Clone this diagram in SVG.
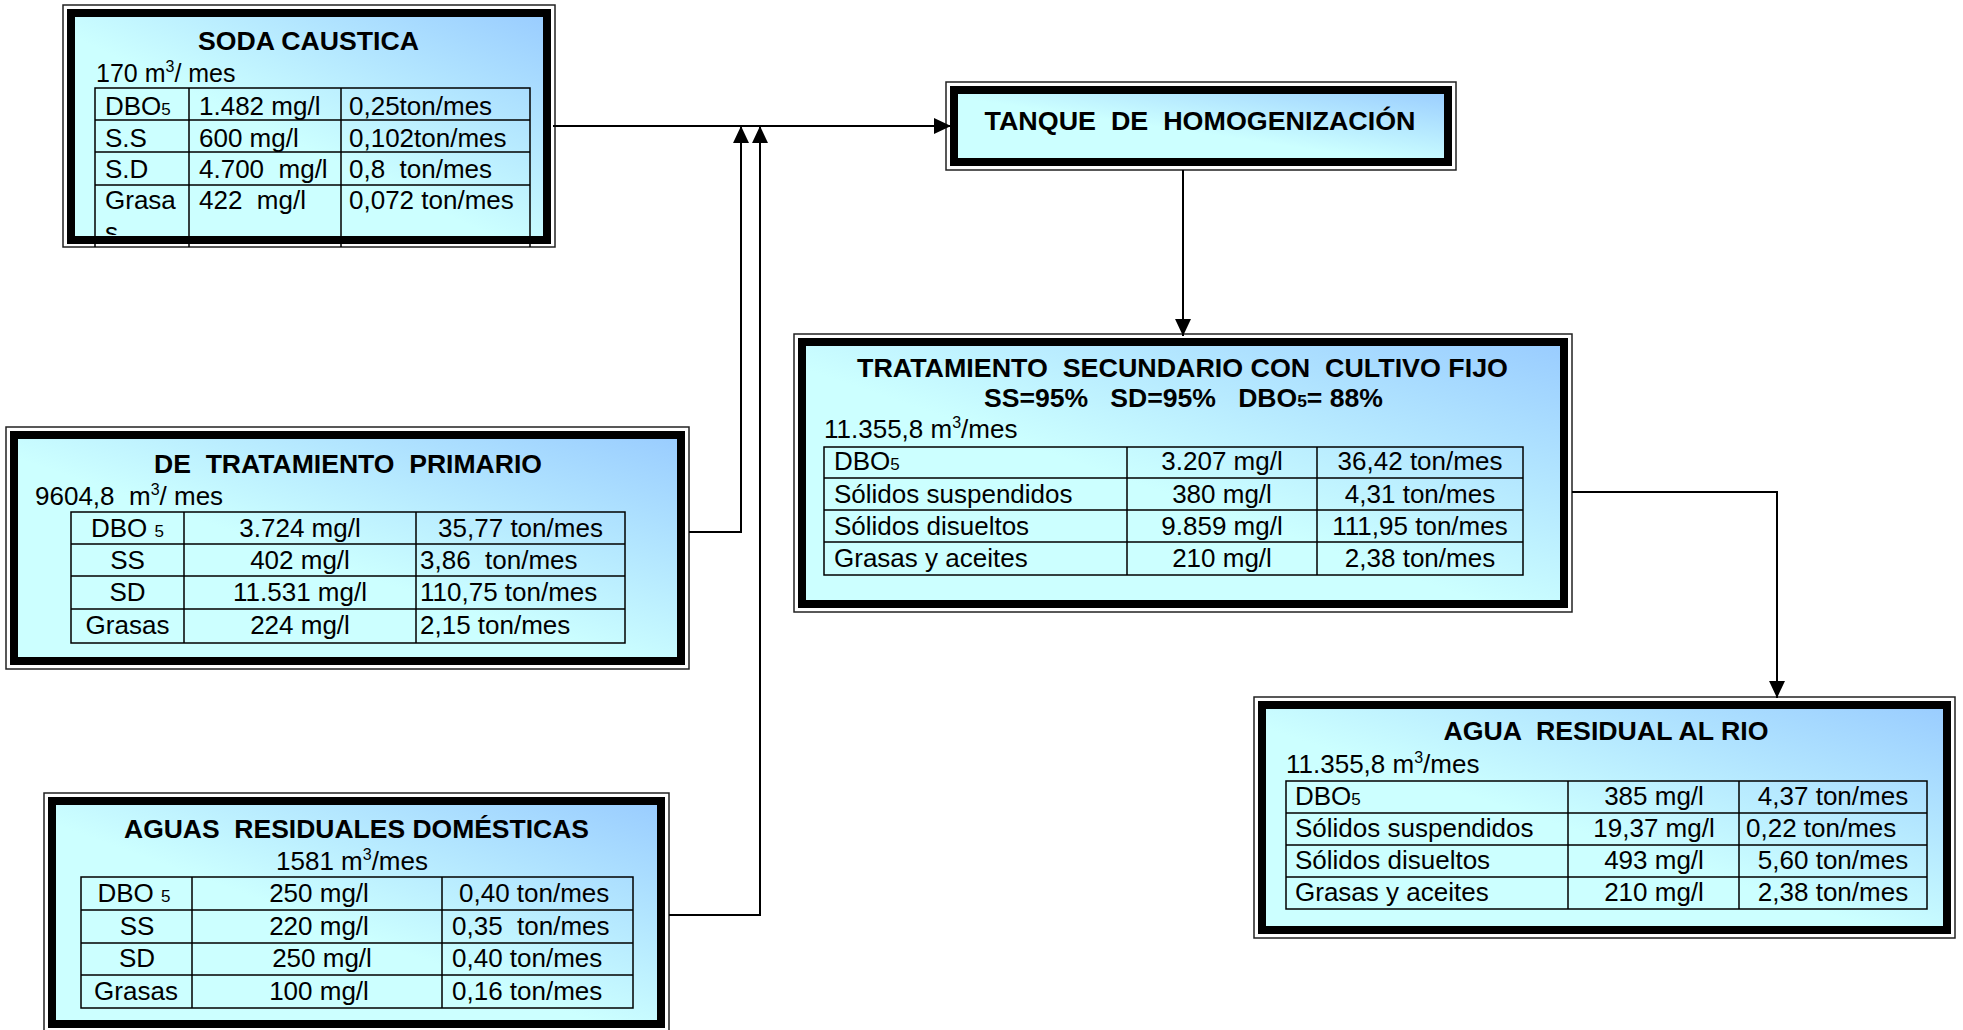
<svg xmlns="http://www.w3.org/2000/svg" width="1963" height="1030" viewBox="0 0 1963 1030">
<defs>
<linearGradient id="g" x1="1" y1="0" x2="0" y2="1">
<stop offset="0" stop-color="#99CCFF"/>
<stop offset="0.55" stop-color="#CCFFFF"/>
<stop offset="1" stop-color="#CCFFFF"/>
</linearGradient>
<marker id="arr" markerUnits="userSpaceOnUse" markerWidth="17" markerHeight="16" refX="16" refY="7.5" orient="auto" viewBox="0 0 16 15">
<path d="M0,0 L16,7.5 L0,15 Z" fill="#000"/>
</marker>
<clipPath id="clipA"><rect x="75" y="17" width="469" height="218"/></clipPath>
</defs>
<style>
.t{font-family:"Liberation Sans",Arial,Helvetica,sans-serif;font-size:26px;fill:#000;white-space:pre}
.b{font-weight:bold}
.m{text-anchor:middle}
.outer{fill:none;stroke:#222;stroke-width:1.5}
.band{fill:url(#g);stroke:#000;stroke-width:8}
.cell{fill:none;stroke:#000;stroke-width:1.5}
.conn{fill:none;stroke:#000;stroke-width:2}
</style>
<rect width="1963" height="1030" fill="#fff"/>

<g id="soda-caustica">
<rect class="outer" x="63" y="5" width="492" height="242"/>
<rect class="band" x="71" y="13" width="476" height="227"/>
<path class="cell" d="M95,247 V88 H530 V247 M95,120 H530 M95,152 H530 M95,185 H530 M189,88 V247 M341,88 V247"/>
<text class="t b m" x="308.5" y="50" textLength="221" lengthAdjust="spacingAndGlyphs">SODA CAUSTICA</text>
<text class="t" x="96" y="82" style="font-size:25px">170 m<tspan font-size="16" dy="-10">3</tspan><tspan dy="10">/ mes</tspan></text>
<text class="t" x="105" y="115">DBO<tspan font-size="17">5</tspan></text>
<text class="t" x="199" y="115">1.482 mg/l</text>
<text class="t" x="349" y="115">0,25ton/mes</text>
<text class="t" x="105" y="147">S.S</text>
<text class="t" x="199" y="147">600 mg/l</text>
<text class="t" x="349" y="147">0,102ton/mes</text>
<text class="t" x="105" y="178">S.D</text>
<text class="t" x="199" y="178">4.700  mg/l</text>
<text class="t" x="349" y="178">0,8  ton/mes</text>
<text class="t" x="105" y="209">Grasa</text>
<text class="t" x="105" y="241" clip-path="url(#clipA)">s</text>
<text class="t" x="199" y="209">422  mg/l</text>
<text class="t" x="349" y="209">0,072 ton/mes</text>
</g>

<g id="tratamiento-primario">
<rect class="outer" x="6" y="427" width="683" height="242"/>
<rect class="band" x="14" y="435" width="667" height="226"/>
<rect class="cell" x="71" y="512" width="554" height="131"/>
<path class="cell" d="M71,544 H625 M71,576 H625 M71,609 H625 M184,512 V643 M416,512 V643"/>
<text class="t b m" x="348" y="473" textLength="388" lengthAdjust="spacingAndGlyphs">DE  TRATAMIENTO  PRIMARIO</text>
<text class="t" x="35" y="505">9604,8  m<tspan font-size="16" dy="-10">3</tspan><tspan dy="10">/ mes</tspan></text>
<text class="t m" x="127.5" y="537">DBO <tspan font-size="17">5</tspan></text>
<text class="t m" x="300" y="537">3.724 mg/l</text>
<text class="t m" x="520.5" y="537">35,77 ton/mes</text>
<text class="t m" x="127.5" y="569">SS</text>
<text class="t m" x="300" y="569">402 mg/l</text>
<text class="t" x="420" y="569">3,86  ton/mes</text>
<text class="t m" x="127.5" y="601">SD</text>
<text class="t m" x="300" y="601">11.531 mg/l</text>
<text class="t" x="420" y="601">110,75 ton/mes</text>
<text class="t m" x="127.5" y="634">Grasas</text>
<text class="t m" x="300" y="634">224 mg/l</text>
<text class="t" x="420" y="634">2,15 ton/mes</text>
</g>

<g id="aguas-domesticas">
<rect class="outer" x="44" y="793" width="625" height="239"/>
<rect class="band" x="52" y="801" width="609" height="223"/>
<rect class="cell" x="81" y="877" width="552" height="131"/>
<path class="cell" d="M81,910 H633 M81,943 H633 M81,975 H633 M192,877 V1008 M442,877 V1008"/>
<text class="t b m" x="356.5" y="838" textLength="465" lengthAdjust="spacingAndGlyphs">AGUAS  RESIDUALES DOMÉSTICAS</text>
<text class="t m" x="352" y="870">1581 m<tspan font-size="16" dy="-10">3</tspan><tspan dy="10">/mes</tspan></text>
<text class="t m" x="134" y="902">DBO <tspan font-size="17">5</tspan></text>
<text class="t m" x="319" y="902">250 mg/l</text>
<text class="t" x="459" y="902">0,40 ton/mes</text>
<text class="t m" x="137" y="935">SS</text>
<text class="t m" x="319" y="935">220 mg/l</text>
<text class="t" x="452" y="935">0,35  ton/mes</text>
<text class="t m" x="137" y="967">SD</text>
<text class="t m" x="322" y="967">250 mg/l</text>
<text class="t" x="452" y="967">0,40 ton/mes</text>
<text class="t m" x="136" y="1000">Grasas</text>
<text class="t m" x="319" y="1000">100 mg/l</text>
<text class="t" x="452" y="1000">0,16 ton/mes</text>
</g>

<g id="tanque-homogenizacion">
<rect class="outer" x="946" y="82" width="510" height="88"/>
<rect class="band" x="954" y="90" width="494" height="72"/>
<text class="t b m" x="1200" y="130" textLength="431" lengthAdjust="spacingAndGlyphs">TANQUE  DE  HOMOGENIZACIÓN</text>
</g>

<g id="tratamiento-secundario">
<rect class="outer" x="794" y="334" width="778" height="278"/>
<rect class="band" x="802" y="342" width="762" height="262"/>
<rect class="cell" x="824" y="447" width="699" height="128"/>
<path class="cell" d="M824,478 H1523 M824,510 H1523 M824,542 H1523 M1127,447 V575 M1317,447 V575"/>
<text class="t b m" x="1182.5" y="377" textLength="651" lengthAdjust="spacingAndGlyphs">TRATAMIENTO  SECUNDARIO CON  CULTIVO FIJO</text>
<text class="t b m" x="1183.5" y="407" textLength="399" lengthAdjust="spacingAndGlyphs">SS=95%   SD=95%   DBO<tspan font-size="17">5</tspan>= 88%</text>
<text class="t" x="824" y="438">11.355,8 m<tspan font-size="16" dy="-10">3</tspan><tspan dy="10">/mes</tspan></text>
<text class="t" x="834" y="470">DBO<tspan font-size="17">5</tspan></text>
<text class="t m" x="1222" y="470">3.207 mg/l</text>
<text class="t m" x="1420" y="470">36,42 ton/mes</text>
<text class="t" x="834" y="503">Sólidos suspendidos</text>
<text class="t m" x="1222" y="503">380 mg/l</text>
<text class="t m" x="1420" y="503">4,31 ton/mes</text>
<text class="t" x="834" y="535">Sólidos disueltos</text>
<text class="t m" x="1222" y="535">9.859 mg/l</text>
<text class="t m" x="1420" y="535">111,95 ton/mes</text>
<text class="t" x="834" y="567">Grasas y aceites</text>
<text class="t m" x="1222" y="567">210 mg/l</text>
<text class="t m" x="1420" y="567">2,38 ton/mes</text>
</g>

<g id="agua-residual-rio">
<rect class="outer" x="1254" y="697" width="701" height="241"/>
<rect class="band" x="1262" y="705" width="685" height="225"/>
<rect class="cell" x="1286" y="781" width="641" height="128"/>
<path class="cell" d="M1286,813 H1927 M1286,845 H1927 M1286,877 H1927 M1568,781 V909 M1739,781 V909"/>
<text class="t b m" x="1606" y="740" textLength="325" lengthAdjust="spacingAndGlyphs">AGUA  RESIDUAL AL RIO</text>
<text class="t" x="1286" y="773">11.355,8 m<tspan font-size="16" dy="-10">3</tspan><tspan dy="10">/mes</tspan></text>
<text class="t" x="1295" y="805">DBO<tspan font-size="17">5</tspan></text>
<text class="t m" x="1654" y="805">385 mg/l</text>
<text class="t m" x="1833" y="805">4,37 ton/mes</text>
<text class="t" x="1295" y="837">Sólidos suspendidos</text>
<text class="t m" x="1654" y="837">19,37 mg/l</text>
<text class="t" x="1746" y="837">0,22 ton/mes</text>
<text class="t" x="1295" y="869">Sólidos disueltos</text>
<text class="t m" x="1654" y="869">493 mg/l</text>
<text class="t m" x="1833" y="869">5,60 ton/mes</text>
<text class="t" x="1295" y="901">Grasas y aceites</text>
<text class="t m" x="1654" y="901">210 mg/l</text>
<text class="t m" x="1833" y="901">2,38 ton/mes</text>
</g>

<g id="connectors">
<path class="conn" d="M553,126 H951" marker-end="url(#arr)"/>
<path class="conn" d="M689,532 H741 V126" marker-end="url(#arr)"/>
<path class="conn" d="M669,915 H760 V126" marker-end="url(#arr)"/>
<path class="conn" d="M1183,170 V336" marker-end="url(#arr)"/>
<path class="conn" d="M1572,492 H1777 V698" marker-end="url(#arr)"/>
</g>
</svg>
